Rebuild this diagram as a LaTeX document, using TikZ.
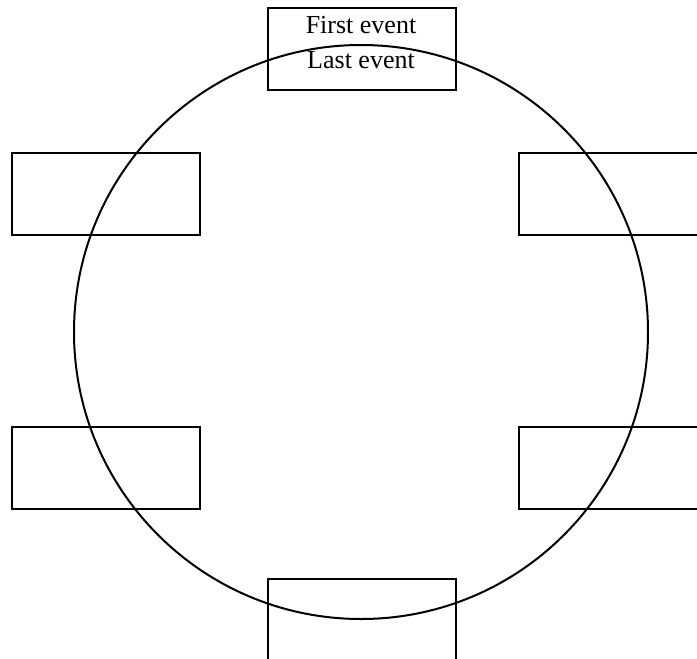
\documentclass[tikz,border=0pt]{standalone}
\usepackage{fontspec}
\setmainfont{Liberation Serif}
\begin{document}
\begin{tikzpicture}[x=1pt,y=-1pt,
  evbox/.style={draw=black,line width=2pt,minimum width=188pt,minimum height=82pt,inner sep=0pt},
  ring/.style={draw=black,line width=2pt},
  evtext/.style={font=\fontsize{26}{35}\selectfont,anchor=base,inner sep=0pt}]
\useasboundingbox (0,0) rectangle (697,659);
\clip (0,0) rectangle (697,659);
\node[evbox] (top) at (362,49) {};
\node[evbox] (lefta) at (106,194) {};
\node[evbox] (leftb) at (106,468) {};
\node[evbox] (righta) at (613,194) {};
\node[evbox] (rightb) at (613,468) {};
\node[evbox] (bottom) at (362,620) {};
\node[ring,circle,minimum size=574pt,inner sep=0pt] (c) at (361,332) {};
\node[evtext] (first) at (361,33) {First event};
\node[evtext] (last) at (361,68) {Last event};
\end{tikzpicture}
\end{document}
